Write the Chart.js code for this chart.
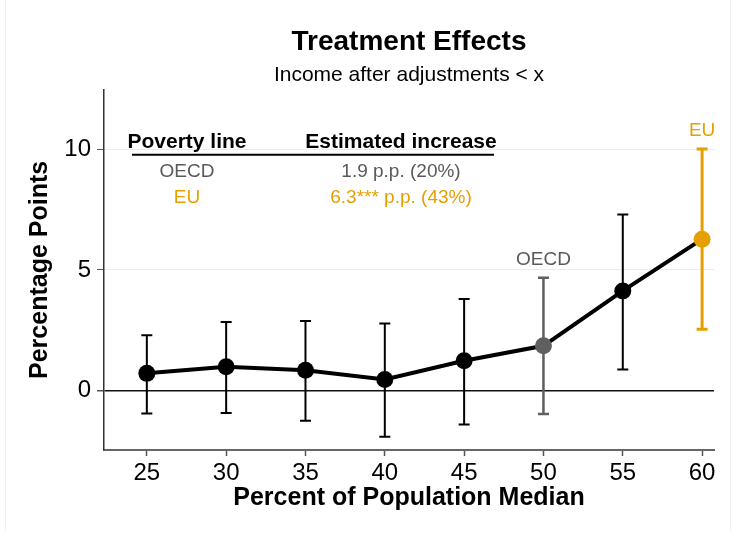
<!DOCTYPE html>
<html>
<head>
<meta charset="utf-8">
<script src="https://cdn.jsdelivr.net/npm/chart.js@4.4.1/dist/chart.umd.min.js"></script>
<style>
  html, body { margin: 0; padding: 0; background: #fff; }
  #wrap { position: relative; width: 732px; height: 533px; }
  #frame { position: absolute; left: 5px; top: 0; width: 724px; height: 531px;
           border-left: 1px solid #f0f0f0; border-right: 1px solid #f0f0f0; pointer-events: none; }
</style>
</head>
<body>
<div id="wrap">
  <canvas id="chart" width="732" height="533"></canvas>
  <div id="frame"></div>
</div>
<script>
// poverty line (percent of population median)
var povertyLines = [25, 30, 35, 40, 45, 50, 55, 60];
// estimated effect, percentage points
var effects = [0.72, 0.99, 0.85, 0.47, 1.24, 1.86, 4.13, 6.27];
// 95% confidence interval bounds
var ciLow = [-0.94, -0.92, -1.24, -1.90, -1.39, -0.96, 0.88, 2.55];
var ciHigh = [2.30, 2.85, 2.89, 2.78, 3.80, 4.68, 7.29, 10.0];
var pointColors = ['#000', '#000', '#000', '#000', '#000', '#5f5f5f', '#000', '#e69f00'];

var xTicks = [25, 30, 35, 40, 45, 50, 55, 60];
var yTicks = [0, 5, 10];

// labels put over the marked poverty lines
var markerLabels = [{ index: 5, text: 'OECD' }, { index: 7, text: 'EU' }];

// little table in the top left corner
var tableHeaders = ['Poverty line', 'Estimated increase'];
var tableNames = ['OECD', 'EU'];
var tableValues = ['1.9 p.p. (20%)', '6.3*** p.p. (43%)'];
var tableColors = ['#5a5a5a', '#e69f00'];

var FONT = "'Liberation Sans', Arial, Helvetica, sans-serif";

var errorBars = {
    id: 'errorBars',
    beforeDatasetsDraw: function (chart) {
        var ctx = chart.ctx;
        var xs = chart.scales.x, ys = chart.scales.y;
        ctx.save();
        povertyLines.forEach(function (p, i) {
            var x = xs.getPixelForValue(p);
            var y1 = ys.getPixelForValue(ciLow[i]);
            var y2 = ys.getPixelForValue(ciHigh[i]);
            ctx.strokeStyle = pointColors[i];
            ctx.lineWidth = pointColors[i] === '#e69f00' ? 3 : (pointColors[i] === '#000' ? 2 : 2.5);
            ctx.beginPath();
            ctx.moveTo(x, y1); ctx.lineTo(x, y2);
            ctx.moveTo(x - 5.5, y1); ctx.lineTo(x + 5.5, y1);
            ctx.moveTo(x - 5.5, y2); ctx.lineTo(x + 5.5, y2);
            ctx.stroke();
        });
        ctx.restore();
    },
    afterDatasetsDraw: function (chart) {
        var ctx = chart.ctx;
        var xs = chart.scales.x, ys = chart.scales.y;
        var area = chart.chartArea;
        ctx.save();
        ctx.textAlign = 'center';
        ctx.textBaseline = 'middle';

        // OECD / EU tags above their intervals
        ctx.font = '19px ' + FONT;
        markerLabels.forEach(function (m) {
            ctx.fillStyle = m.text === 'EU' ? '#e69f00' : '#5a5a5a';
            ctx.fillText(m.text, xs.getPixelForValue(povertyLines[m.index]),
                ys.getPixelForValue(ciHigh[m.index]) - 18);
        });

        // table
        var c1 = area.left + 83, c2 = area.left + 297;
        ctx.fillStyle = '#000';
        ctx.font = 'bold 21px ' + FONT;
        ctx.fillText(tableHeaders[0], c1, area.top + 52);
        ctx.fillText(tableHeaders[1], c2, area.top + 52);
        ctx.strokeStyle = '#000';
        ctx.lineWidth = 2;
        ctx.beginPath();
        ctx.moveTo(area.left + 28, area.top + 65);
        ctx.lineTo(area.left + 390, area.top + 65);
        ctx.stroke();
        ctx.font = '19px ' + FONT;
        tableNames.forEach(function (name, i) {
            ctx.fillStyle = tableColors[i];
            ctx.fillText(name, c1, area.top + 82 + i * 26);
            ctx.fillText(tableValues[i], c2, area.top + 82 + i * 26);
        });
        ctx.restore();
    }
};

new Chart(document.getElementById('chart').getContext('2d'), {
    type: 'line',
    data: {
        datasets: [{
            data: povertyLines.map(function (p, i) { return { x: p, y: effects[i] }; }),
            borderColor: '#000',
            borderWidth: 4,
            pointRadius: 8.5,
            pointBorderWidth: 0,
            pointBackgroundColor: pointColors,
            pointBorderColor: pointColors,
            tension: 0
        }]
    },
    options: {
        responsive: false,
        animation: false,
        devicePixelRatio: 1,
        layout: { padding: { left: 8, right: 18, top: 0, bottom: 0 } },
        plugins: {
            legend: { display: false },
            tooltip: { enabled: false },
            title: {
                display: true,
                text: 'Treatment Effects',
                color: '#000',
                fullSize: false,
                font: { family: FONT, size: 28, weight: 'bold', lineHeight: 1.2 },
                padding: { top: 25, bottom: 4 }
            },
            subtitle: {
                display: true,
                text: 'Income after adjustments < x',
                color: '#000',
                fullSize: false,
                font: { family: FONT, size: 21, lineHeight: 1.2 },
                padding: { top: 0, bottom: 2 }
            }
        },
        scales: {
            x: {
                type: 'linear',
                min: 22.3,
                max: 60.75,
                afterBuildTicks: function (scale) {
                    scale.ticks = xTicks.map(function (v) { return { value: v }; });
                },
                afterFit: function (scale) { scale.height = 83; },
                grid: { drawOnChartArea: false, drawTicks: true, tickLength: 6, tickColor: '#555', tickWidth: 1.5 },
                border: { display: true, color: '#666', width: 2 },
                ticks: { color: '#000', padding: 3, font: { family: FONT, size: 24 }, maxRotation: 0 },
                title: {
                    display: true,
                    text: 'Percent of Population Median',
                    color: '#000',
                    font: { family: FONT, size: 25, weight: 'bold', lineHeight: 1.2 },
                    padding: { top: 0, bottom: 20 }
                }
            },
            y: {
                type: 'linear',
                min: -2.45,
                max: 12.45,
                afterBuildTicks: function (scale) {
                    scale.ticks = yTicks.map(function (v) { return { value: v }; });
                },
                afterFit: function (scale) { scale.width = 96; },
                grid: {
                    color: function (c) { return c.tick && c.tick.value === 0 ? '#111' : '#e8eef2'; },
                    lineWidth: function (c) { return c.tick && c.tick.value === 0 ? 1.5 : 1; },
                    tickColor: '#555',
                    tickLength: 7,
                    drawTicks: true
                },
                border: { display: true, color: '#333', width: 1.5 },
                ticks: { color: '#000', padding: 6, font: { family: FONT, size: 24 } },
                title: {
                    display: true,
                    text: 'Percentage Points',
                    color: '#000',
                    font: { family: FONT, size: 25, weight: 'bold', lineHeight: 1.2 },
                    padding: { top: 17, bottom: 0 }
                }
            }
        }
    },
    plugins: [errorBars]
});
</script>
</body>
</html>
